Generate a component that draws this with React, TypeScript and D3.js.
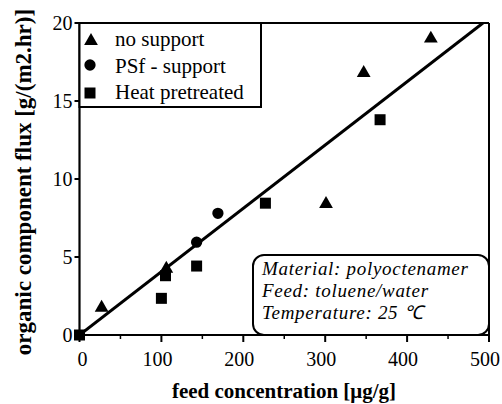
import React from "react";
import * as d3 from "d3";

// Measured flux vs feed concentration for three membrane types
const noSupportX = [27, 106, 301, 347, 429];
const noSupportY = [1.75, 4.25, 8.4, 16.8, 19.0];
const psfX = [143, 169];
const psfY = [5.95, 7.8];
const heatX = [0, 100, 105, 143, 227, 367];
const heatY = [0, 2.35, 3.8, 4.42, 8.45, 13.8];

// Linear fit through the origin
const fitSlope = 0.0406;

const xTicks = [0, 100, 200, 300, 400, 500];
const xMinorTicks = [50, 150, 250, 350, 450];
const yTicks = [0, 5, 10, 15, 20];

const legendLabels = ["no support", "PSf - support", "Heat pretreated"];
const noteLines = ["Material: polyoctenamer", "Feed: toluene/water", "Temperature: 25 \u2103"];

const W = 502;
const H = 404;
const left = 79.5;
const right = 489;
const top = 23;
const bottom = 335;

const font = "Liberation Serif";

export default function App() {
  const x = d3.scaleLinear().domain([0, 500]).range([left, right]);
  const y = d3.scaleLinear().domain([0, 20]).range([bottom, top]);

  const tri = d3.symbol().type(d3.symbolTriangle).size(82)() as string;
  const circ = d3.symbol().type(d3.symbolCircle).size(100)() as string;
  const sq = d3.symbol().type(d3.symbolSquare).size(121)() as string;

  const fitEndX = 20 / fitSlope;
  const line = d3.line<number>().x((d) => x(d)).y((d) => y(d * fitSlope));

  return (
    <svg
      width={W}
      height={H}
      style={{ display: "block", position: "absolute", left: 0, top: 0, fontFamily: font }}
    >
      <rect width={W} height={H} fill="#fff" />
      <defs>
        <clipPath id="plotClip">
          <rect x={left} y={top} width={right - left} height={bottom - top} />
        </clipPath>
      </defs>

      {/* frame */}
      <line x1={left} y1={top} x2={right} y2={top} stroke="#000" strokeWidth={2} />
      <line x1={right} y1={top} x2={right} y2={bottom} stroke="#000" strokeWidth={2} />
      <line x1={left} y1={bottom} x2={right} y2={bottom} stroke="#000" strokeWidth={2.2} />
      <line x1={left} y1={top} x2={left} y2={bottom} stroke="#000" strokeWidth={2.2} />

      {/* x ticks */}
      {xTicks.map((t) => (
        <g key={"xt" + t}>
          <line x1={x(t)} x2={x(t)} y1={bottom} y2={bottom + 7} stroke="#000" strokeWidth={2} />
          <text x={x(t) + (t === 0 ? 3 : -4)} y={366} textAnchor="middle" fontSize={20}>
            {t}
          </text>
        </g>
      ))}
      {xMinorTicks.map((t) => (
        <line key={"xm" + t} x1={x(t)} x2={x(t)} y1={bottom} y2={bottom + 4} stroke="#000" strokeWidth={1.5} />
      ))}

      {/* y ticks */}
      {yTicks.map((t) => (
        <g key={"yt" + t}>
          <line x1={left - 5} x2={left} y1={y(t)} y2={y(t)} stroke="#000" strokeWidth={2} />
          <text x={left - 7} y={y(t) + 7} textAnchor="end" fontSize={20}>
            {t}
          </text>
        </g>
      ))}

      {/* axis titles */}
      <text x={284} y={398} textAnchor="middle" fontWeight="bold" fontSize={21}>
        feed concentration [μg/g]
      </text>
      <text
        transform={`translate(31, 182) rotate(-90)`}
        textAnchor="middle"
        fontWeight="bold"
        fontSize={23}
      >
        organic component flux [g/(m2.hr)]
      </text>

      {/* fit line */}
      <g clipPath="url(#plotClip)">
        <path d={line([0, fitEndX]) as string} stroke="#000" strokeWidth={3} fill="none" />
      </g>

      {/* data */}
      {heatX.map((v, i) => (
        <path key={"h" + i} d={sq} transform={`translate(${x(v)},${y(heatY[i])})`} fill="#000" />
      ))}
      {psfX.map((v, i) => (
        <path key={"p" + i} d={circ} transform={`translate(${x(v)},${y(psfY[i])})`} fill="#000" />
      ))}
      {noSupportX.map((v, i) => (
        <path key={"n" + i} d={tri} transform={`translate(${x(v)},${y(noSupportY[i])})`} fill="#000" />
      ))}

      {/* legend */}
      <rect x={left} y={top} width={261 - left} height={107 - top} fill="#fff" stroke="#000" strokeWidth={2} />
      <path d={tri} transform="translate(91,41)" fill="#000" />
      <path d={circ} transform="translate(90,65)" fill="#000" />
      <path d={sq} transform="translate(90,93)" fill="#000" />
      {legendLabels.map((s, i) => (
        <text key={s} x={115} y={46 + i * 26.5} fontSize={21}>
          {s}
        </text>
      ))}

      {/* conditions note */}
      <rect
        x={253}
        y={255}
        width={right - 253}
        height={bottom - 255}
        rx={11}
        ry={11}
        fill="#fff"
        stroke="#000"
        strokeWidth={2}
      />
      {noteLines.map((s, i) => (
        <text
          key={s}
          x={262}
          y={275 + i * 22}
          fontStyle="italic"
          fontSize={19}
          letterSpacing={0.7}
        >
          {s}
        </text>
      ))}
    </svg>
  );
}
